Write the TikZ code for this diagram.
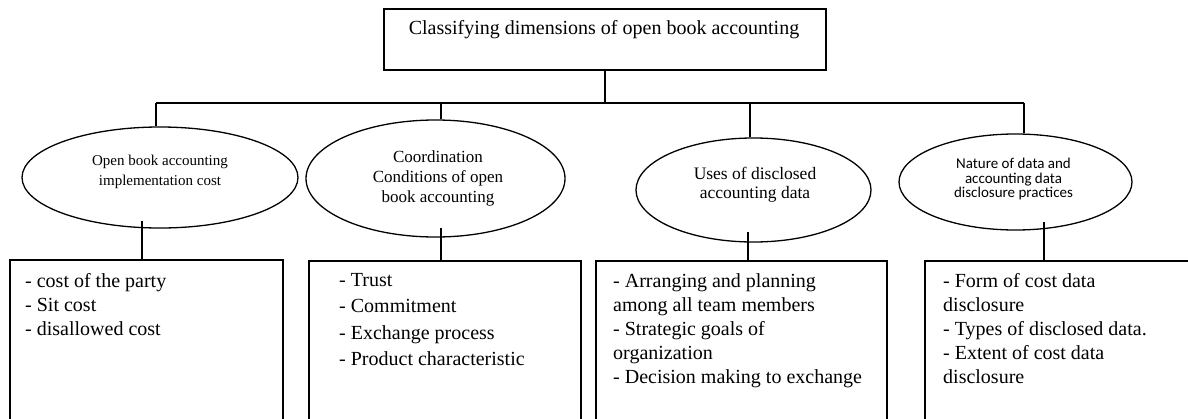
\documentclass[tikz,border=0pt]{standalone}
\usepackage{fontspec}
\setmainfont{Liberation Serif}
\newfontfamily\calib{Carlito}
\usetikzlibrary{shapes.geometric}
\begin{document}
\begin{tikzpicture}[x=1pt,y=-1pt,
  conn/.style={line width=1.8pt},
  topbox/.style={draw, line width=1.5pt, anchor=north west, inner sep=0pt},
  oval/.style={ellipse, draw, line width=1.3pt, inner sep=0pt},
  listbox/.style={draw, line width=1.5pt, anchor=north west, inner sep=0pt},
  listtext/.style={anchor=north west, inner sep=0pt, align=left},
  ovaltext/.style={align=center, inner sep=0pt},
]
\useasboundingbox (0,0) rectangle (1188,418);
\clip (0,0) rectangle (1188,418);

% top box
\node[topbox, minimum width=442pt, minimum height=61pt] (top) at (383,8) {};
\node[font=\fontsize{20}{24}\selectfont] (toptext) at (604,30) {Classifying dimensions of open book accounting};

% ellipses
\node[oval, minimum width=276pt, minimum height=101pt] (e1) at (160,177.5) {};
\node[oval, minimum width=259pt, minimum height=117pt] (e2) at (435.5,178.5) {};
\node[oval, minimum width=235pt, minimum height=104pt] (e3) at (753.5,190) {};
\node[oval, minimum width=233pt, minimum height=96pt] (e4) at (1015.5,182) {};

\node[ovaltext, font=\fontsize{15}{20}\selectfont] (e1t) at (160,172) {Open book accounting\\implementation cost};
\node[ovaltext, font=\fontsize{17}{20}\selectfont] (e2t) at (438,178) {Coordination\\Conditions of open\\book accounting};
\node[ovaltext, font=\fontsize{17.5}{19}\selectfont] (e3t) at (755,185) {Uses of disclosed\\accounting data};
\node[ovaltext, font=\calib\fontsize{15}{14.5}\selectfont] (e4t) at (1013.5,179) {Nature of data and\\accounting data\\disclosure practices};

% bus
\coordinate (b1) at (156,103);
\coordinate (b2) at (441,103);
\coordinate (b3) at (750,103);
\coordinate (b4) at (1024,103);
\draw[conn] (top.south) -- (top.south |- b1);
\draw[conn] (b1) -- (b4);
\draw[conn] (b1) -- (b1 |- e1.north);
\draw[conn] (b2) -- (b2 |- e2.north);
\draw[conn] (b3) -- (b3 |- e3.north);
\draw[conn] (b4) -- (b4 |- e4.north);

% boxes
\node[listbox, minimum width=273pt, minimum height=180pt] (box1) at (9,259) {};
\node[listbox, minimum width=272pt, minimum height=180pt] (box2) at (308,260) {};
\node[listbox, minimum width=291pt, minimum height=180pt] (box3) at (595,260) {};
\node[listbox, minimum width=290pt, minimum height=180pt] (box4) at (924,260) {};

% lower stems
\coordinate (s1) at (142,221);
\coordinate (s2) at (441,228);
\coordinate (s3) at (748,232);
\coordinate (s4) at (1044,222);
\draw[conn] (s1) -- (s1 |- box1.north);
\draw[conn] (s2) -- (s2 |- box2.north);
\draw[conn] (s3) -- (s3 |- box3.north);
\draw[conn] (s4) -- (s4 |- box4.north);

% box texts
\node[listtext, font=\fontsize{20}{24}\selectfont] (t1) at (25,273) {- cost of the party\\- Sit cost\\- disallowed cost};
\node[listtext, font=\fontsize{20}{26.5}\selectfont] (t2) at (339,273) {- Trust\\- Commitment\\- Exchange process\\- Product characteristic};
\node[listtext, font=\fontsize{20}{24}\selectfont] (t3) at (613,273) {- Arranging and planning\\among all team members\\- Strategic goals of\\organization\\- Decision making to exchange};
\node[listtext, font=\fontsize{20}{24}\selectfont] (t4) at (943,273) {- Form of cost data\\disclosure\\- Types of disclosed data.\\- Extent of cost data\\disclosure};
\end{tikzpicture}
\end{document}
